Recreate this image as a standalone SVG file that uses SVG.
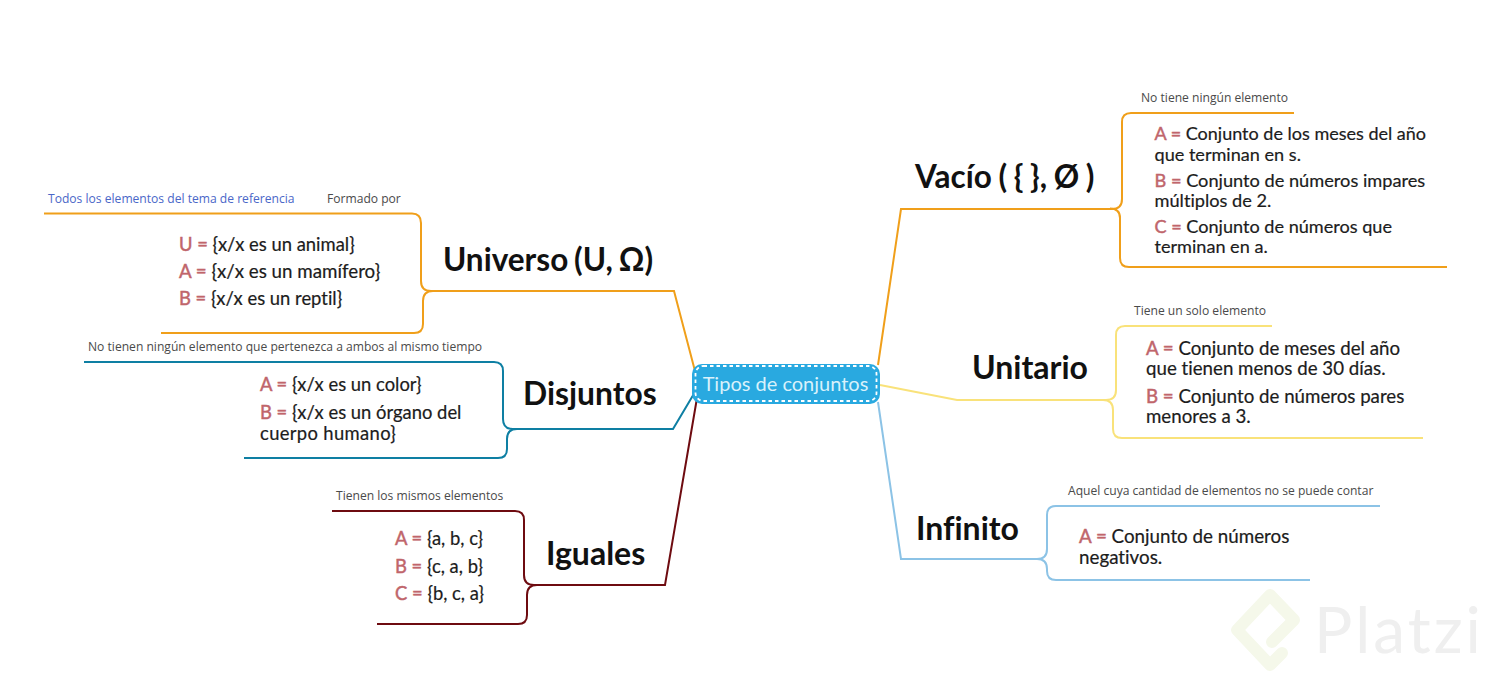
<svg xmlns="http://www.w3.org/2000/svg" width="1495" height="679" viewBox="0 0 1495 679">
<style>
text{font-family:Lato,"Liberation Sans",sans-serif;fill:#1c1c1c;font-variant-ligatures:none}
.h{font-size:32px;font-weight:700;fill:#111}
.b{font-size:18.4px;stroke:#1c1c1c;stroke-width:.2px}
.k{fill:#c0656b;stroke:#c0656b;stroke-width:.45px}
.s{font-family:"Open Sans","Noto Sans",sans-serif;font-size:12.1px;fill:#4a4a4a}
.c{fill:none;stroke-width:2}
.o{stroke:#f09f1a}.t{stroke:#0e7fa3}.m{stroke:#6e0b10}.y{stroke:#f9e27a}.l{stroke:#8cc3e6}
</style>
<rect width="1495" height="679" fill="#fff"/>
<g id="watermark">
<path d="M1272 642 L1294 620 L1270 595 L1237 630 L1270 665 L1282 653" fill="none" stroke="#f5f8ea" stroke-width="12" stroke-linejoin="round" stroke-linecap="round"/>
<text x="1314" y="653" font-size="64" letter-spacing="3" style="fill:#efefef">Platzi</text>
</g>
<g id="connectors">
<path class="c o" d="M695 371 L674 291 H431 Q421 291 421 281 V223 Q421 213.500 412 213.500 H44"/>
<path class="c o" d="M433 291 Q423 291 423 301 V324 Q423 333 414 333 H161"/>
<path class="c o" d="M878 365 L901 209 H1112 Q1122 209 1122 199 V122 Q1122 113 1131 113 H1294"/>
<path class="c o" d="M1110 208.500 Q1120 208.500 1120 218 V258 Q1120 267 1129 267 H1447"/>
<path class="c t" d="M695 392 L673 429 H513 Q503 429 503 419 V371 Q503 362 494 362 H84"/>
<path class="c t" d="M517 429 Q507 429 507 439 V449 Q507 458 498 458 H244"/>
<path class="c m" d="M697 398 L665 585 H534 Q524 585 524 575 V520 Q524 511 515 511 H332"/>
<path class="c m" d="M537 585 Q527 585 527 595 V615 Q527 624 518 624 H377"/>
<path class="c y" d="M880 385 L957 400 H1106 Q1116 400 1116 390 V335 Q1116 326 1125 326 H1272"/>
<path class="c y" d="M1103 400 Q1113 400 1113 410 V429 Q1113 438 1122 438 H1423"/>
<path class="c l" d="M878 402 L901 559 H1037 Q1047 559 1047 549 V515 Q1047 506 1056 506 H1380"/>
<path class="c l" d="M1037 559 Q1047 559 1047 569 V571 Q1047 580 1056 580 H1310"/>
</g>
<g id="root">
<rect x="692" y="364" width="188" height="40" rx="10" fill="#29a9e0"/>
<rect x="695.500" y="366" width="181" height="35" rx="8" fill="none" stroke="#fff" stroke-width="1.800" stroke-dasharray="3.500 3"/>
<text x="785.500" y="391" text-anchor="middle" font-size="20" style="fill:#d8f1fb">Tipos de conjuntos</text>
</g>
<g id="universo">
<text class="s" x="48" y="203" style="fill:#4a67c8">Todos los elementos del tema de referencia</text>
<text class="s" x="327" y="203">Formado por</text>
<text class="h" x="443" y="270.700" word-spacing="-1.800" style="font-size:31.500px">Universo (U, Ω)</text>
<text class="b" x="179" y="251"><tspan class="k">U = </tspan>{x/x es un animal}</text>
<text class="b" x="179" y="278" style="font-size:18.750px"><tspan class="k">A = </tspan>{x/x es un mamífero}</text>
<text class="b" x="179" y="305"><tspan class="k">B = </tspan>{x/x es un reptil}</text>
</g>
<g id="disjuntos">
<text class="s" x="88" y="351">No tienen ningún elemento que pertenezca a ambos al mismo tiempo</text>
<text class="h" x="523" y="404.700" style="font-size:31.800px">Disjuntos</text>
<text class="b" x="260" y="391"><tspan class="k">A = </tspan>{x/x es un color}</text>
<text class="b" x="260" y="418.500"><tspan class="k">B = </tspan>{x/x es un órgano del</text>
<text class="b" x="260" y="439.500" letter-spacing=".35">cuerpo humano}</text>
</g>
<g id="iguales">
<text class="s" x="336" y="500">Tienen los mismos elementos</text>
<text class="h" x="546" y="564.700">Iguales</text>
<text class="b" x="395" y="545"><tspan class="k">A = </tspan>{a, b, c}</text>
<text class="b" x="395" y="573"><tspan class="k">B = </tspan>{c, a, b}</text>
<text class="b" x="395" y="600"><tspan class="k">C = </tspan>{b, c, a}</text>
</g>
<g id="vacio">
<text class="s" x="1141" y="102">No tiene ningún elemento</text>
<text class="h" x="915" y="187.700" word-spacing="-1" style="font-size:31.500px">Vacío ( { }, Ø )</text>
<text class="b" x="1154.500" y="140" style="font-size:18px"><tspan class="k">A = </tspan>Conjunto de los meses del año</text>
<text class="b" x="1154.500" y="161" style="font-size:18.100px">que terminan en s.</text>
<text class="b" x="1154.500" y="187" style="font-size:18.200px"><tspan class="k">B = </tspan>Conjunto de números impares</text>
<text class="b" x="1154.500" y="207" style="font-size:18.200px">múltiplos de 2.</text>
<text class="b" x="1154.500" y="233" style="font-size:18.100px"><tspan class="k">C = </tspan>Conjunto de números que</text>
<text class="b" x="1154.500" y="253" style="font-size:18.100px">terminan en a.</text>
</g>
<g id="unitario">
<text class="s" x="1134" y="315">Tiene un solo elemento</text>
<text class="h" x="972" y="378.700">Unitario</text>
<text class="b" x="1146" y="355" style="font-size:18.700px"><tspan class="k">A = </tspan>Conjunto de meses del año</text>
<text class="b" x="1146" y="375" style="font-size:18.700px">que tienen menos de 30 días.</text>
<text class="b" x="1146" y="403" style="font-size:18.700px"><tspan class="k">B = </tspan>Conjunto de números pares</text>
<text class="b" x="1146" y="423" style="font-size:18.700px">menores a 3.</text>
</g>
<g id="infinito">
<text class="s" x="1068" y="495">Aquel cuya cantidad de elementos no se puede contar</text>
<text class="h" x="916" y="539.700">Infinito</text>
<text class="b" x="1079" y="543" style="font-size:18.800px"><tspan class="k">A = </tspan>Conjunto de números</text>
<text class="b" x="1079" y="564" style="font-size:18.800px">negativos.</text>
</g>
</svg>
